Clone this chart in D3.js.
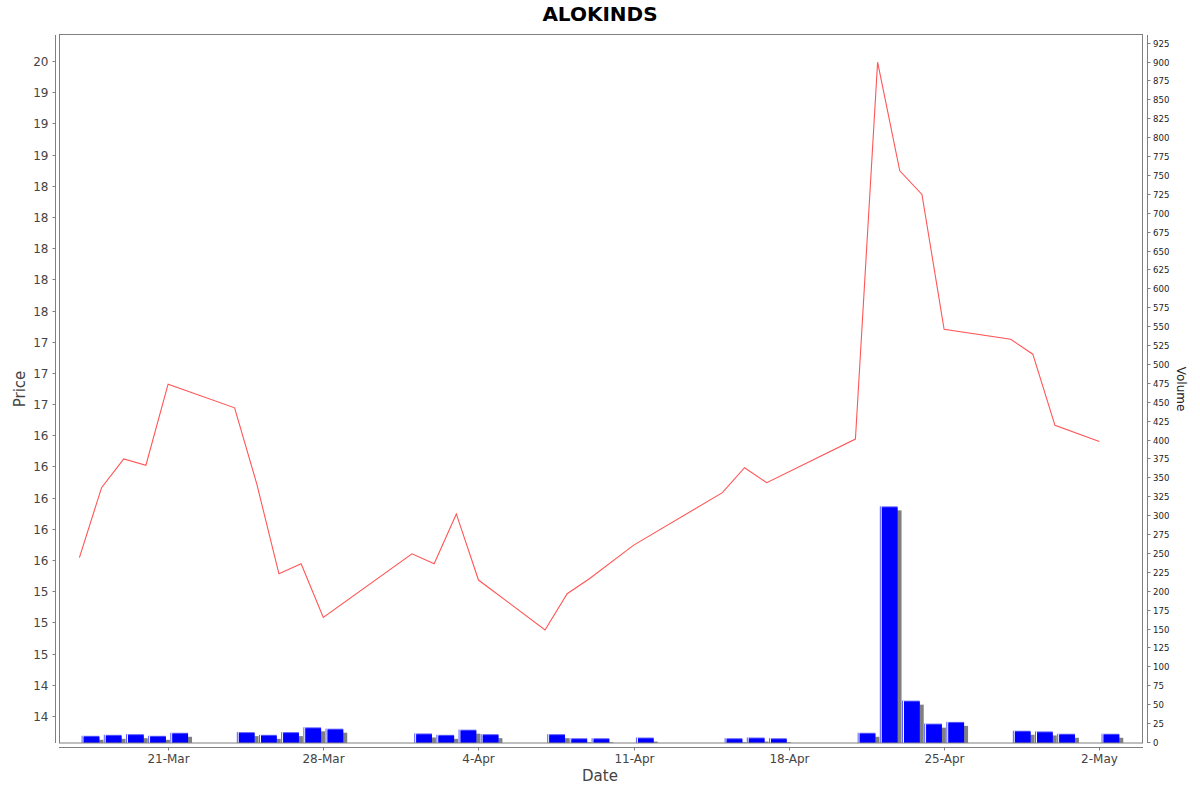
<!DOCTYPE html>
<html>
<head>
<meta charset="utf-8">
<script src="https://cdn.jsdelivr.net/npm/d3@7"></script>
<style>
  html, body { margin: 0; padding: 0; background: #fff; }
  svg { display: block; font-family: "DejaVu Sans", sans-serif; }
</style>
</head>
<body>
<div id="chart"></div>
<script>
// trading days
var dates = ["2025-03-17","2025-03-18","2025-03-19","2025-03-20","2025-03-21",
  "2025-03-24","2025-03-25","2025-03-26","2025-03-27","2025-03-28",
  "2025-04-01","2025-04-02","2025-04-03","2025-04-04",
  "2025-04-07","2025-04-08","2025-04-09","2025-04-11",
  "2025-04-15","2025-04-16","2025-04-17",
  "2025-04-21","2025-04-22","2025-04-23","2025-04-24","2025-04-25",
  "2025-04-28","2025-04-29","2025-04-30","2025-05-02"];
var prices = [15.52, 16.08, 16.31, 16.26, 16.91,
  16.72, 16.11, 15.39, 15.47, 15.04,
  15.55, 15.47, 15.87, 15.34,
  14.94, 15.23, 15.35, 15.62,
  16.04, 16.24, 16.12,
  16.47, 19.49, 18.62, 18.43, 17.35,
  17.27, 17.15, 16.58, 16.45];
var volumes = [9.5, 10.8, 11.7, 9.5, 13.5,
  14.4, 10.8, 14.4, 20.7, 18.9,
  12.6, 10.8, 17.6, 11.7,
  11.7, 6.3, 6.3, 7.2,
  6.3, 7.2, 6.3,
  13.5, 313, 56, 25.6, 27.9,
  16.2, 15.3, 12.2, 12.2];
var priceTicks = d3.range(14.25, 19.51, 0.25);
var volumeTicks = d3.range(0, 926, 25);
var dateTicks = ["2025-03-21","2025-03-28","2025-04-04","2025-04-11","2025-04-18","2025-04-25","2025-05-02"];

var W = 1200, H = 792;
var pLeft = 59, pRight = 1143, pTop = 35, pBottom = 743;
var DAY = 864e5;

var parse = d3.utcParse("%Y-%m-%d");
var days = dates.map(parse);

var svg = d3.select("#chart").append("svg")
  .attr("width", W).attr("height", H);

var x = d3.scaleUtc()
  .domain([new Date(parse("2025-03-17").getTime() - 0.92 * DAY), new Date(parse("2025-05-02").getTime() + 1.97 * DAY)])
  .range([pLeft, pRight]);
var yPrice = d3.scaleLinear().domain([14.034, 19.708]).range([pBottom, pTop]);
var yVol = d3.scaleLinear().domain([0, 936.5]).range([pBottom, pTop]);

// round half even, like the original labels
function halfEven(v) {
  var f = Math.floor(v), d = v - f;
  if (Math.abs(d - 0.5) < 1e-9) return (f % 2 === 0) ? f : f + 1;
  return Math.round(v);
}

svg.append("defs").append("clipPath").attr("id", "plotclip")
  .append("rect").attr("x", pLeft).attr("y", pTop).attr("width", pRight - pLeft).attr("height", pBottom - pTop);

var plot = svg.append("g").attr("clip-path", "url(#plotclip)");

// volume bars with shadow
var bars = plot.append("g");
days.forEach(function(d, i) {
  var x0 = x(new Date(d.getTime() + 0.1 * DAY));
  var x1 = x(new Date(d.getTime() + 0.9 * DAY));
  var yt = yVol(volumes[i]);
  bars.append("rect")
    .attr("x", x0 + 4).attr("y", yt + 4)
    .attr("width", x1 - x0).attr("height", Math.max(0, pBottom - yt))
    .attr("fill", "#808080");
});
days.forEach(function(d, i) {
  var x0 = x(new Date(d.getTime() + 0.1 * DAY));
  var x1 = x(new Date(d.getTime() + 0.9 * DAY));
  var yt = yVol(volumes[i]);
  bars.append("rect")
    .attr("x", x0).attr("y", yt)
    .attr("width", x1 - x0).attr("height", pBottom - yt)
    .attr("fill", "#5a5aff");
  bars.append("rect")
    .attr("x", x0 + 1).attr("y", yt)
    .attr("width", 1).attr("height", pBottom - yt)
    .attr("fill", "#ffffff");
  bars.append("rect")
    .attr("x", x0 + 2).attr("y", yt + 1)
    .attr("width", x1 - x0 - 2).attr("height", pBottom - yt - 1)
    .attr("fill", "#0000ff");
});

// price line
var line = d3.line()
  .x(function(d, i) { return x(days[i]); })
  .y(function(d) { return yPrice(d); });
plot.append("path")
  .datum(prices)
  .attr("d", line)
  .attr("fill", "none")
  .attr("stroke", "#ff5555")
  .attr("stroke-width", 1.1);

// plot frame
svg.append("rect")
  .attr("x", pLeft + 0.5).attr("y", pTop - 0.5)
  .attr("width", pRight - pLeft - 1).attr("height", pBottom - pTop + 0.5)
  .attr("fill", "none").attr("stroke", "#808080").attr("stroke-width", 1);

// left price axis
var gL = svg.append("g").attr("transform", "translate(55.5,0)");
gL.append("line").attr("x1", 0).attr("x2", 0).attr("y1", pTop).attr("y2", pBottom)
  .attr("stroke", "#808080");
priceTicks.forEach(function(t) {
  var yy = Math.round(yPrice(t)) + 0.5;
  gL.append("line").attr("x1", -3).attr("x2", 0).attr("y1", yy).attr("y2", yy).attr("stroke", "#808080");
  gL.append("text").attr("x", -7).attr("y", yy + 4.5)
    .attr("text-anchor", "end").attr("font-size", 12).attr("fill", "#444")
    .text(halfEven(t));
});

// right volume axis
var gR = svg.append("g").attr("transform", "translate(1147.5,0)");
gR.append("line").attr("x1", 0).attr("x2", 0).attr("y1", pTop).attr("y2", pBottom)
  .attr("stroke", "#808080");
volumeTicks.forEach(function(t) {
  var yy = Math.round(yVol(t)) - 0.5;
  gR.append("line").attr("x1", 0).attr("x2", 3).attr("y1", yy).attr("y2", yy).attr("stroke", "#808080");
  gR.append("text").attr("x", 5.5).attr("y", yy + 3.5)
    .attr("font-size", 8.6).attr("fill", "#222")
    .text(t);
});

// bottom date axis
var gB = svg.append("g").attr("transform", "translate(0,747.5)");
gB.append("line").attr("x1", pLeft).attr("x2", pRight).attr("y1", 0).attr("y2", 0)
  .attr("stroke", "#808080");
var fmt = d3.utcFormat("%-d-%b");
dateTicks.map(parse).forEach(function(t) {
  var xx = Math.round(x(t)) + 0.5;
  gB.append("line").attr("x1", xx).attr("x2", xx).attr("y1", 0).attr("y2", 3).attr("stroke", "#808080");
  gB.append("text").attr("x", xx).attr("y", 15)
    .attr("text-anchor", "middle").attr("font-size", 12).attr("fill", "#444")
    .text(fmt(t));
});

// titles
svg.append("text").attr("x", 600).attr("y", 20.5)
  .attr("text-anchor", "middle").attr("font-size", 20).attr("font-weight", "bold")
  .attr("fill", "#000").text("ALOKINDS");
svg.append("text").attr("x", 600).attr("y", 781)
  .attr("text-anchor", "middle").attr("font-size", 15).attr("fill", "#444").text("Date");
svg.append("text").attr("transform", "translate(25,389) rotate(-90)")
  .attr("text-anchor", "middle").attr("font-size", 15).attr("fill", "#444").text("Price");
svg.append("text").attr("transform", "translate(1177,389) rotate(90)")
  .attr("text-anchor", "middle").attr("font-size", 12).attr("fill", "#222").text("Volume");
</script>
</body>
</html>
